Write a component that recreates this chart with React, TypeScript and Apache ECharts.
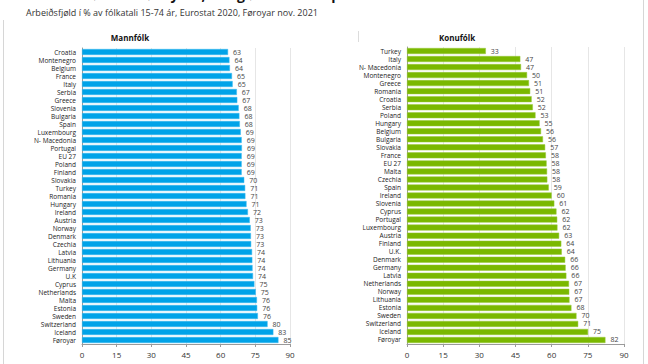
import React, { useEffect, useRef } from "react";
import * as echarts from "echarts";

const menCountries = ["Croatia","Montenegro","Belgium","France","Italy","Serbia","Greece","Slovenia","Bulgaria","Spain","Luxembourg","N- Macedonia","Portugal","EU 27","Poland","Finland","Slovakia","Turkey","Romania","Hungary","Ireland","Austria","Norway","Denmark","Czechia","Latvia","Lithuania","Germany","U.K","Cyprus","Netherlands","Malta","Estonia","Sweden","Switzerland","Iceland","Føroyar"];
const menValues = [63.2,63.8,64.0,64.9,65.2,67.0,67.2,67.8,68.1,68.3,68.7,69.1,69.2,69.1,69.1,69.1,70.2,70.6,70.7,71.2,71.8,72.6,73.0,73.1,73.2,73.6,73.7,73.8,74.0,74.6,75.2,75.7,75.8,76.1,80.3,82.8,85.0];

const womenCountries = ["Turkey","Italy","N- Macedonia","Montenegro","Greece","Romania","Croatia","Serbia","Poland","Hungary","Belgium","Bulgaria","Slovakia","France","EU 27","Malta","Czechia","Spain","Ireland","Slovenia","Cyprus","Portugal","Luxembourg","Austria","Finland","U.K.","Denmark","Germany","Latvia","Netherlands","Norway","Lithuania","Estonia","Sweden","Switzerland","Iceland","Føroyar"];
const womenValues = [32.7,47.0,47.3,49.8,50.6,51.1,51.7,52.2,53.3,55.0,55.6,56.4,57.3,57.6,57.9,58.1,58.2,58.8,60.0,61.1,62.0,62.3,62.4,63.1,64.0,64.2,65.6,65.8,66.1,67.2,67.3,67.4,68.2,70.3,71.0,75.1,82.3];

const xTicks = { min: 0, max: 90, interval: 15 };

const FONT = "'Open Sans', 'DejaVu Sans', sans-serif";

export default function App() {
  const ref = useRef<HTMLDivElement>(null);
  useEffect(() => {
    if (!ref.current) return;
    const chart = echarts.init(ref.current, null, { renderer: "svg" });
    const xAxisBase = (gridIndex: number) => ({
      type: "value" as const,
      gridIndex,
      min: xTicks.min,
      max: xTicks.max,
      interval: xTicks.interval,
      axisLine: { show: true, lineStyle: { color: "#9a9a9a", width: 1 } },
      axisTick: { show: true, length: 3, lineStyle: { color: "#9a9a9a" } },
      axisLabel: { fontSize: 8, color: "#333", fontFamily: FONT, margin: 6 },
      splitLine: { show: true, lineStyle: { color: "#e6e6e6", width: 1 } },
    });
    const yAxisBase = (gridIndex: number, data: string[]) => ({
      type: "category" as const,
      gridIndex,
      data,
      inverse: true,
      axisLine: { show: true, lineStyle: { color: "#9a9a9a", width: 1 } },
      axisTick: { show: false },
      axisLabel: { fontSize: 6.5, color: "#222", fontFamily: FONT, margin: 6, interval: 0, lineHeight: 7 },
    });
    const labelCfg = {
      show: true,
      position: "right" as const,
      distance: 5,
      fontSize: 7,
      lineHeight: 7,
      color: "#444",
      fontFamily: FONT,
      formatter: (p: any) => String(Math.round(p.value)),
    };
    chart.setOption({
      animation: false,
      backgroundColor: "#ffffff",
      grid: [
        { left: 82, top: 48, width: 208, height: 296 },
        { left: 407, top: 47, width: 217, height: 297 },
      ],
      xAxis: [xAxisBase(0), xAxisBase(1)],
      yAxis: [yAxisBase(0, menCountries), yAxisBase(1, womenCountries)],
      series: [
        {
          type: "bar",
          xAxisIndex: 0,
          yAxisIndex: 0,
          data: menValues,
          barWidth: 6,
          itemStyle: { color: "#00a3e8", borderColor: "#3bb8ee", borderWidth: 0.5 },
          label: labelCfg,
        },
        {
          type: "bar",
          xAxisIndex: 1,
          yAxisIndex: 1,
          data: womenValues,
          barWidth: 6,
          itemStyle: { color: "#7ab800", borderColor: "#98c93a", borderWidth: 0.5 },
          label: labelCfg,
        },
      ],
      graphic: [
        { type: "line", shape: { x1: 3.5, y1: 20, x2: 3.5, y2: 364 }, style: { stroke: "#d6d6d6", lineWidth: 1 } },
        { type: "line", shape: { x1: 643.5, y1: 0, x2: 643.5, y2: 364 }, style: { stroke: "#d6d6d6", lineWidth: 1 } },
        { type: "line", shape: { x1: 358.5, y1: 31, x2: 358.5, y2: 42 }, style: { stroke: "#dcdcdc", lineWidth: 1 } },
        {
          type: "text", left: 26, top: -13,
          style: { text: "Vinnuluttøkan í Føroyum, ES og øðrum europeiskum londum", fontSize: 14, fontWeight: "bold", fill: "#111", fontFamily: FONT },
        },
        {
          type: "text", left: 26, top: 8,
          style: { text: "Arbeiðsfjøld í % av fólkatali 15-74 ár, Eurostat 2020, Føroyar nov. 2021", fontSize: 9, fill: "#333", fontFamily: FONT },
        },
        {
          type: "text", x: 130, y: 37,
          style: { text: "Mannfólk", fontSize: 8, fontWeight: "bold", fill: "#111", fontFamily: FONT, align: "center", verticalAlign: "middle" },
        },
        {
          type: "text", x: 457, y: 37,
          style: { text: "Konufólk", fontSize: 8, fontWeight: "bold", fill: "#111", fontFamily: FONT, align: "center", verticalAlign: "middle" },
        },
      ],
    });
    return () => chart.dispose();
  }, []);
  return <div ref={ref} style={{ width: 648, height: 364, position: "absolute", left: 0, top: 0 }} />;
}
